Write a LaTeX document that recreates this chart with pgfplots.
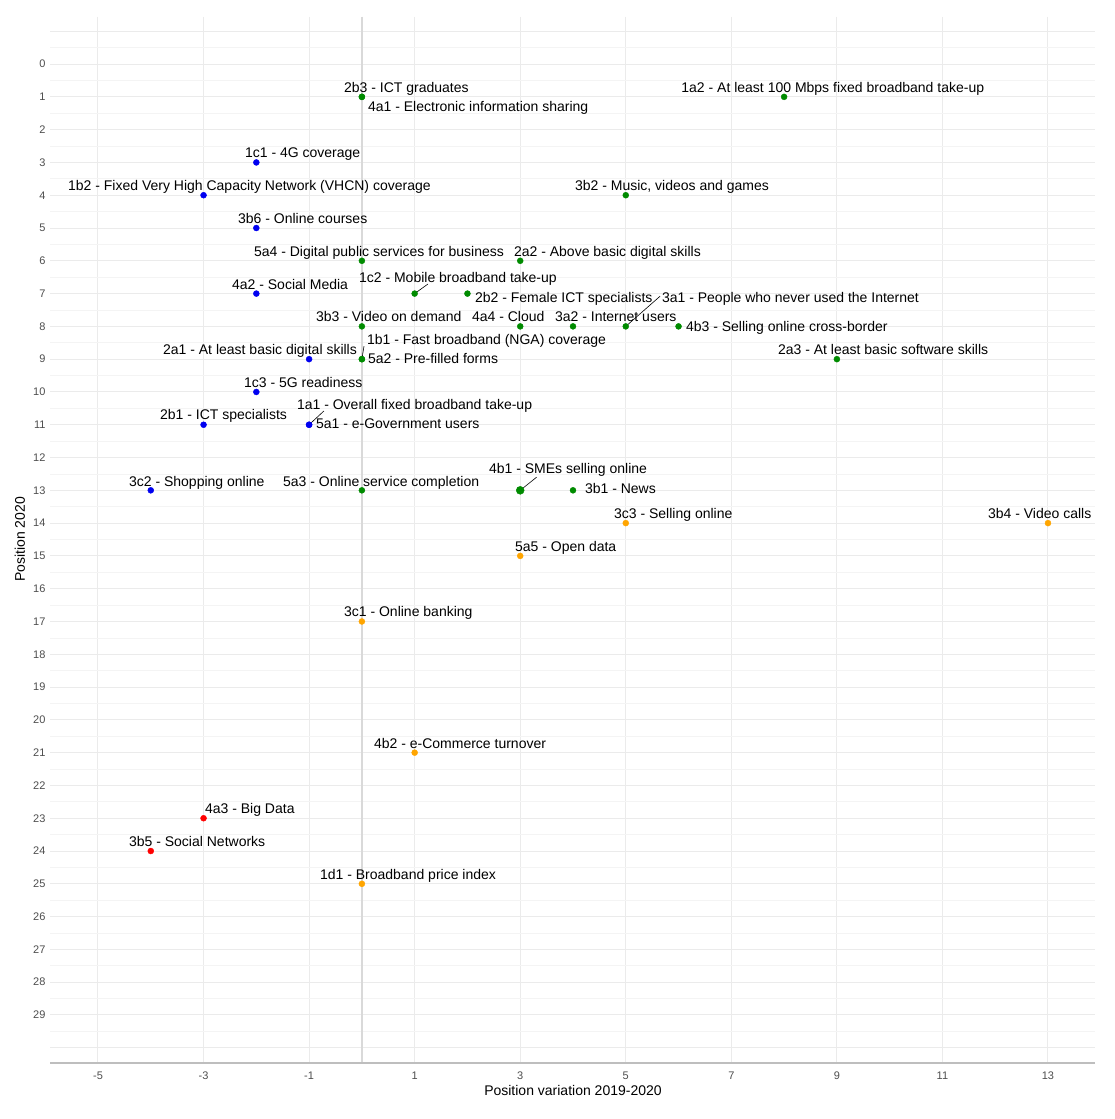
\documentclass[border=0pt]{standalone}
\usepackage{fontspec}
\setmainfont{Liberation Sans}
\usepackage{pgfplots}
\pgfplotsset{compat=1.18}
\definecolor{gmaj}{HTML}{EBEBEB}
\definecolor{gmin}{HTML}{F4F4F4}
\definecolor{zerol}{HTML}{D9D9D9}
\definecolor{axl}{HTML}{BEBEBE}
\definecolor{tickc}{HTML}{4D4D4D}
\definecolor{pgreen}{HTML}{008B00}
\definecolor{pblue}{HTML}{0000F0}
\definecolor{porange}{HTML}{FFA500}
\definecolor{pred}{HTML}{FF0000}
\tikzset{lbl/.style={anchor=base west, yshift=-5pt, inner sep=0pt, font=\fontsize{14}{16}\selectfont}}
\begin{document}
\begin{tikzpicture}
\useasboundingbox (-50.5pt,-56.5pt) rectangle (1063.5pt,1062.5pt);
\begin{axis}[
  scale only axis, width=1045pt, height=1046pt,
  xmin=-5.9, xmax=13.9, ymin=-1.45, ymax=30.45, y dir=reverse,
  xtick={-5,-3,...,13}, xticklabels={-5,-3,-1,1,3,5,7,9,11,13},
  ytick={-1,0,...,30},
  yticklabels={{},0,1,2,3,4,5,6,7,8,9,10,11,12,13,14,15,16,17,18,19,20,21,22,23,24,25,26,27,28,29,{}},
  minor ytick={-0.5,0.5,...,29.5},
  xmajorgrids, ymajorgrids, yminorgrids,
  major grid style={gmaj, line width=1pt},
  minor grid style={gmin, line width=0.7pt},
  axis line style={draw=none},
  major tick length=0pt, minor tick length=0pt,
  tick label style={font=\fontsize{11}{13}\selectfont, text=tickc},
  xticklabel style={yshift=-6pt},
  yticklabel style={xshift=-1.5pt},
  xlabel={Position variation 2019-2020},
  ylabel={Position 2020},
  label style={font=\fontsize{14}{16}\selectfont, text=black},
  xlabel style={at={(axis description cs:0.5,-0.0263)}, anchor=center},
  ylabel style={at={(axis description cs:-0.0292,0.5)}, anchor=center},
  clip=false,
]
\addplot[zerol, line width=2pt] coordinates {(0,-1.45) (0,30.45)};
\addplot[axl, line width=2pt] coordinates {(-5.9,30.45) (13.9,30.45)};

% green
\addplot[only marks, mark=*, mark size=3pt, color=pgreen] coordinates {
(0,1) (0,1) (8,1) (5,4) (0,6) (3,6) (1,7) (2,7) (0,8) (3,8) (4,8) (5,8) (6,8)
(0,9) (0,9) (9,9) (0,13) (4,13)
};
\addplot[only marks, mark=*, mark size=4pt, color=pgreen] coordinates {(3,13)};
% blue
\addplot[only marks, mark=*, mark size=3pt, color=pblue] coordinates {
(-2,3) (-3,4) (-2,5) (-2,7) (-1,9) (-2,10) (-3,11) (-1,11) (-1,11) (-4,13)
};
% orange
\addplot[only marks, mark=*, mark size=3pt, color=porange] coordinates {
(5,14) (13,14) (3,15) (0,17) (1,21) (0,25)
};
% red
\addplot[only marks, mark=*, mark size=3pt, color=pred] coordinates {
(-3,23) (-4,24)
};

% connector segments
\draw[black, line width=0.6pt] (axis cs:1,7) -- (axis cs:1.25,6.71);
\draw[black, line width=0.6pt] (axis cs:5,8) -- (axis cs:5.65,7.08);
\draw[black, line width=0.6pt] (axis cs:0,9) -- (axis cs:0.04,8.6);
\draw[black, line width=0.6pt] (axis cs:-1,11) -- (axis cs:-0.72,10.58);
\draw[black, line width=0.6pt] (axis cs:3,13) -- (axis cs:3.31,12.6);

% labels
\node[lbl] at (axis cs:-0.341,0.701) {2b3 - ICT graduates};
\node[lbl] at (axis cs:0.114,1.281) {4a1 - Electronic information sharing};
\node[lbl] at (axis cs:6.05,0.701) {1a2 - At least 100 Mbps fixed broadband take-up};
\node[lbl] at (axis cs:-2.217,2.684) {1c1 - 4G coverage};
\node[lbl] at (axis cs:-5.570,3.690) {1b2 - Fixed Very High Capacity Network (VHCN) coverage};
\node[lbl] at (axis cs:4.036,3.690) {3b2 - Music, videos and games};
\node[lbl] at (axis cs:-2.349,4.697) {3b6 - Online courses};
\node[lbl] at (axis cs:-2.046,5.703) {5a4 - Digital public services for business};
\node[lbl] at (axis cs:2.880,5.703) {2a2 - Above basic digital skills};
\node[lbl] at (axis cs:-0.057,6.496) {1c2 - Mobile broadband take-up};
\node[lbl] at (axis cs:2.141,7.106) {2b2 - Female ICT specialists};
\node[lbl] at (axis cs:-2.463,6.710) {4a2 - Social Media};
\node[lbl] at (axis cs:-0.872,7.685) {3b3 - Video on demand};
\node[lbl] at (axis cs:2.084,7.685) {4a4 - Cloud};
\node[lbl] at (axis cs:3.657,7.685) {3a2 - Internet users};
\node[lbl] at (axis cs:5.684,7.106) {3a1 - People who never used the Internet};
\node[lbl] at (axis cs:6.139,7.990) {4b3 - Selling online cross-border};
\node[lbl] at (axis cs:0.095,8.387) {1b1 - Fast broadband (NGA) coverage};
\node[lbl] at (axis cs:0.114,8.966) {5a2 - Pre-filled forms};
\node[lbl] at (axis cs:7.882,8.692) {2a3 - At least basic software skills};
\node[lbl] at (axis cs:-3.770,8.692) {2a1 - At least basic digital skills};
\node[lbl] at (axis cs:-2.236,9.698) {1c3 - 5G readiness};
\node[lbl] at (axis cs:-3.827,10.674) {2b1 - ICT specialists};
\node[lbl] at (axis cs:-1.232,10.369) {1a1 - Overall fixed broadband take-up};
\node[lbl] at (axis cs:-0.872,10.949) {5a1 - e-Government users};
\node[lbl] at (axis cs:-4.415,12.717) {3c2 - Shopping online};
\node[lbl] at (axis cs:-1.497,12.717) {5a3 - Online service completion};
\node[lbl] at (axis cs:2.406,12.321) {4b1 - SMEs selling online};
\node[lbl] at (axis cs:4.225,12.931) {3b1 - News};
\node[lbl] at (axis cs:4.775,13.693) {3c3 - Selling online};
\node[lbl] at (axis cs:11.861,13.693) {3b4 - Video calls};
\node[lbl] at (axis cs:2.899,14.700) {5a5 - Open data};
\node[lbl] at (axis cs:-0.341,16.682) {3c1 - Online banking};
\node[lbl] at (axis cs:0.227,20.708) {4b2 - e-Commerce turnover};
\node[lbl] at (axis cs:-2.975,22.690) {4a3 - Big Data};
\node[lbl] at (axis cs:-4.415,23.696) {3b5 - Social Networks};
\node[lbl] at (axis cs:-0.796,24.702) {1d1 - Broadband price index};
\end{axis}
\end{tikzpicture}
\end{document}
